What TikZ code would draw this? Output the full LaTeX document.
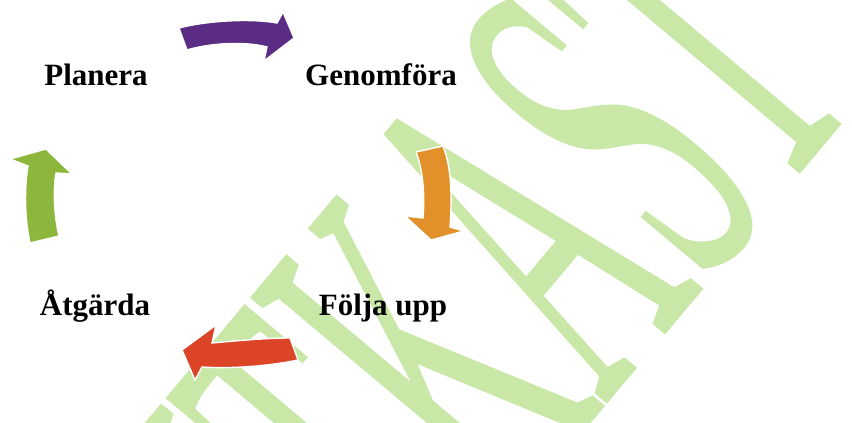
\documentclass[tikz,border=0pt]{standalone}
\usepackage{fontspec}
\setmainfont{Liberation Serif}
\newfontfamily\wmfont{Liberation Serif}[FakeBold=0.6]

\definecolor{wmgreen}{RGB}{201,231,167}
\definecolor{cpurple}{RGB}{91,44,131}
\definecolor{corange}{RGB}{226,144,42}
\definecolor{cred}{RGB}{220,68,40}
\definecolor{cgreen}{RGB}{141,182,60}

\begin{document}
\begin{tikzpicture}[x=1pt, y=-1pt,
  stage/.style={anchor=base, inner sep=0pt, font=\bfseries\fontsize{31}{36}\selectfont},
  cyclearrow/.style={draw=white, line width=1.4pt, line join=miter}]
\clip (0,0) rectangle (852,423);
\fill[white] (0,0) rectangle (852,423);

% watermark behind everything
\node at (326,736) [anchor=base west, inner sep=0pt, text=wmgreen, rotate=50, yscale=2.45,
  font=\wmfont\fontsize{211}{211}\selectfont] (utkast) {UTKAST};

\node at (96,85) [stage] (planera) {Planera};
\node at (381,85) [stage] (genomfora) {Genomföra};
\node at (383,315) [stage] (foljaupp) {Följa upp};
\node at (95,315) [stage] (atgarda) {Åtgärda};

% purple, top
\filldraw[cyclearrow, fill=cpurple] (179,28) .. controls (205,21) and (250,18) .. (277,23)
  -- (283,12) -- (294,38) -- (264,61) -- (267,47)
  .. controls (245,41) and (210,43) .. (187,50) -- cycle;
% orange, right
\filldraw[cyclearrow, fill=corange] (416,152) -- (443,146)
  .. controls (452,168) and (452,200) .. (450,227)
  -- (464,231) -- (431,240) -- (405,216) -- (423,218)
  .. controls (425,195) and (423,170) .. (416,152) -- cycle;
% red, bottom
\filldraw[cyclearrow, fill=cred] (290,338) -- (298,360)
  .. controls (270,366) and (230,369) .. (202,367)
  -- (195,380) -- (182,350) -- (216,325) -- (212,343)
  .. controls (235,341) and (265,338) .. (290,338) -- cycle;
% green, left
\filldraw[cyclearrow, fill=cgreen] (30,243) -- (59,236)
  .. controls (54,215) and (53,190) .. (56,173)
  -- (72,174) -- (46,149) -- (10,159) -- (28,166)
  .. controls (24,190) and (25,220) .. (30,243) -- cycle;
\end{tikzpicture}
\end{document}
